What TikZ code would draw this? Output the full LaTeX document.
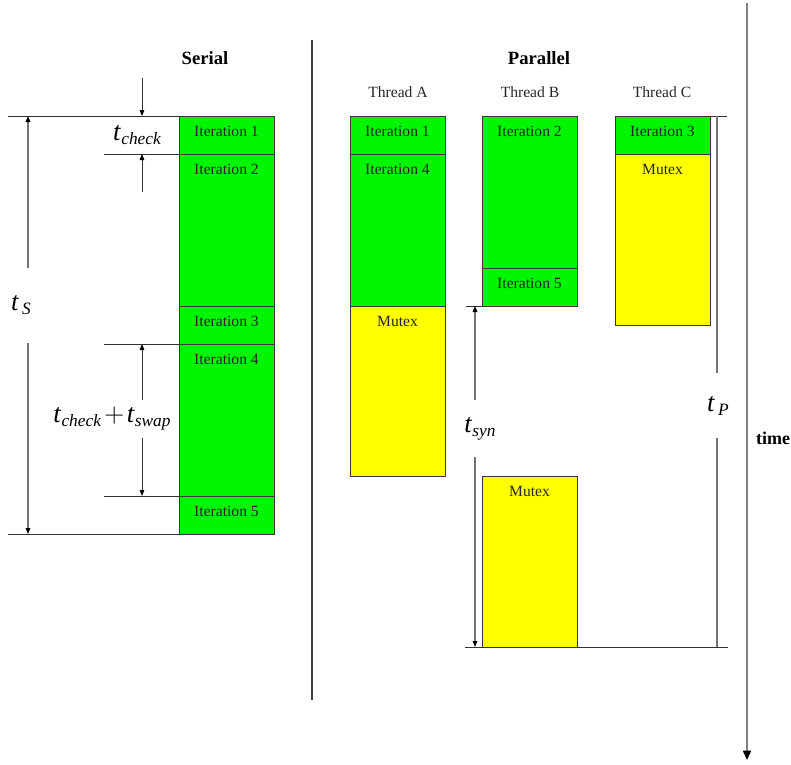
\documentclass[tikz,border=0pt]{standalone}
\usepackage{fontspec}
\setmainfont{Liberation Serif}
\usetikzlibrary{positioning,arrows.meta}
\definecolor{itgreen}{RGB}{0,245,0}
\definecolor{mxyellow}{RGB}{255,255,0}
\definecolor{edge}{RGB}{55,55,55}
\newcommand{\tsub}[1]{\textit{\fontsize{20}{22}\selectfont t\kern0.5pt\raisebox{-3pt}{\fontsize{13}{15}\selectfont #1}}}
\tikzset{
  slot/.style={draw=edge, line width=0.6pt, minimum width=71.25pt, minimum height={#1*0.75pt}, inner sep=0pt, outer sep=0pt},
  itbox/.style={slot=#1, fill=itgreen},
  mxbox/.style={slot=#1, fill=mxyellow},
  txt/.style={font=\fontsize{11.7}{14}\selectfont, text=black!85},
  boxtext/.style={label={[txt, anchor=north, inner sep=0pt, yshift=-7.5pt]north:#1}},
  head/.style={font=\fontsize{14}{16}\selectfont\bfseries},
  dimlbl/.style={inner sep=0pt, minimum height={#1*0.75pt}},
  dimline/.style={draw=black!80, line width=0.6pt},
  dimarr/.style={dimline, -{Triangle[length=4.5pt,width=3.5pt,color=black]}},
  longarr/.style={draw=black!55, line width=0.8pt, -{Triangle[length=4.5pt,width=3.5pt,color=black]}},
}

\begin{document}
\begin{tikzpicture}[x=0.75pt, y=-0.75pt]
  \useasboundingbox (0,0) rectangle (791,764);
  \node[head] (ser) at (205,58) {Serial};
  \node[head] (par) at (539,58) {Parallel};
  \node[txt] (thA) at (398,92) {Thread A};
  \node[txt] (thB) at (530,92) {Thread B};
  \node[txt] (thC) at (662,92) {Thread C};

  % serial run
  \node[itbox=38, boxtext=Iteration 1, anchor=north west] (s1) at (179,116) {};
  \node[itbox=152, boxtext=Iteration 2, below=0pt of s1] (s2) {};
  \node[itbox=38, boxtext=Iteration 3, below=0pt of s2] (s3) {};
  \node[itbox=152, boxtext=Iteration 4, below=0pt of s3] (s4) {};
  \node[itbox=38, boxtext=Iteration 5, below=0pt of s4] (s5) {};

  % threads
  \node[itbox=38, boxtext=Iteration 1, anchor=north west] (a1) at (350,116) {};
  \node[itbox=152, boxtext=Iteration 4, below=0pt of a1] (a4) {};
  \node[mxbox=170, boxtext=Mutex, below=0pt of a4] (am) {};
  \node[itbox=152, boxtext=Iteration 2, anchor=north west] (b2) at (482,116) {};
  \node[itbox=38, boxtext=Iteration 5, below=0pt of b2] (b5) {};
  \node[mxbox=171, boxtext=Mutex, anchor=north west] (bm) at (482,476) {};
  \node[itbox=38, boxtext=Iteration 3, anchor=north west] (c3) at (615,116) {};
  \node[mxbox=171, boxtext=Mutex, below=0pt of c3] (cm) {};

  % serial times
  \coordinate (sTL) at (8,116);
  \coordinate (sBL) at (8,534);
  \coordinate (ckL) at (104,154);
  \coordinate (swT) at (104,344);
  \coordinate (swB) at (104,496);
  \draw[dimline] (sTL) -- (s1.north west);
  \draw[dimline] (sBL) -- (s5.south west);
  \draw[dimline] (ckL) -- (s1.south west);
  \draw[dimline] (swT) -- (s4.north west);
  \draw[dimline] (swB) -- (s4.south west);

  \coordinate (tsT) at (28,116);
  \coordinate (tsB) at (28,534);
  \node[dimlbl=75] (tS) at (21,305.5) {\tsub{\,S}};
  \draw[longarr] (tS.north -| tsT) -- (tsT);
  \draw[longarr] (tS.south -| tsT) -- (tsB);

  \coordinate (ckT) at (142,78);
  \coordinate (ckB) at (142,192);
  \node[dimlbl=20] (tck) at (137,135) {\tsub{check}};
  \draw[dimarr] (ckT) -- (s1.north -| ckT);
  \draw[dimarr] (ckB) -- (s1.south -| ckT);

  \node[dimlbl=38] (tcs) at (112,419) {\tsub{check}\kern2.5pt{\fontsize{20}{22}\selectfont$+$}\kern2pt\tsub{swap}};
  \draw[dimarr] (tcs.north -| ckT) -- (s4.north -| ckT);
  \draw[dimarr] (tcs.south -| ckT) -- (s4.south -| ckT);

  % parallel times
  \coordinate (syL) at (466,306);
  \coordinate (pBL) at (465,647);
  \coordinate (pBR) at (728,647);
  \coordinate (pTR) at (727,116);
  \draw[dimline] (syL) -- (b5.south west);
  \draw[dimline] (pBL) -- (pBR);
  \draw[dimline] (c3.north east) -- (pTR);

  \coordinate (syT) at (475,306);
  \coordinate (syB) at (475,647);
  \node[dimlbl=57] (tsyn) at (480,428.5) {\tsub{syn}};
  \draw[longarr] (tsyn.north -| syT) -- (syT);
  \draw[longarr] (tsyn.south -| syT) -- (syB);

  \coordinate (pT) at (717,116);
  \coordinate (pB) at (717,647);
  \node[dimlbl=65] (tP) at (718,405.5) {\tsub{\,P}};
  \draw[draw=black!55, line width=0.8pt] (tP.north -| pT) -- (pT);
  \draw[draw=black!55, line width=0.8pt] (tP.south -| pT) -- (pB);

  % separator and time axis
  \coordinate (sepT) at (312,40);
  \coordinate (sepB) at (312,700);
  \draw[black!75, line width=1.1pt] (sepT) -- (sepB);
  \coordinate (tmT) at (747,3);
  \coordinate (tmB) at (747,760);
  \draw[black!50, line width=1.2pt, -{Triangle[length=7pt,width=6pt,color=black]}] (tmT) -- (tmB);
  \node[font=\fontsize{13.5}{15}\selectfont\bfseries] (tm) at (773,438) {time};
\end{tikzpicture}
\end{document}
